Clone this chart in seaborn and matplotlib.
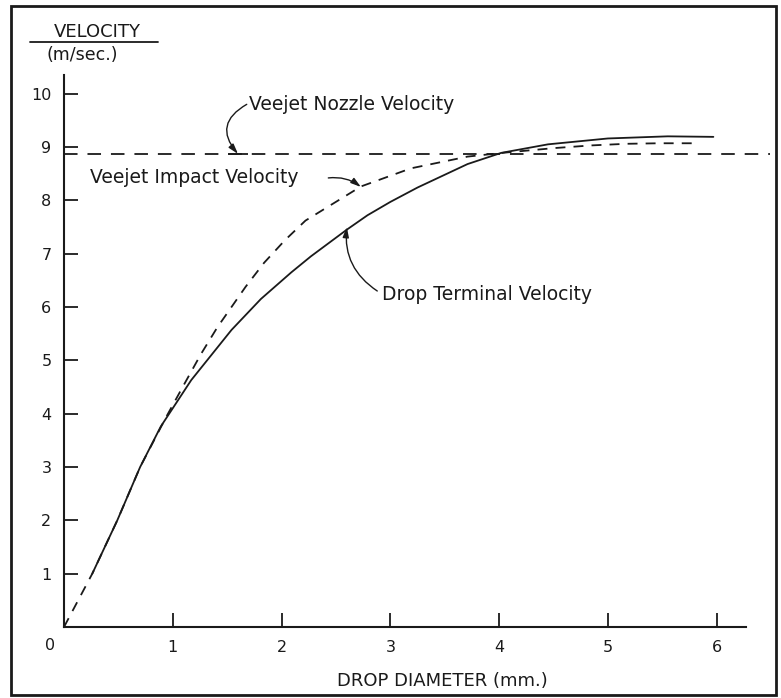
import matplotlib.pyplot as plt
import seaborn as sns
from matplotlib.lines import Line2D
from matplotlib.patches import Rectangle

# values (x: drop diameter in mm, y: velocity in m/s)
terminal_x = [0.26, 0.49, 0.70, 0.89, 1.17, 1.54, 1.81, 2.09, 2.27, 2.60, 2.79,
              3.00, 3.25, 3.71, 4.02, 4.45, 5.00, 5.55, 5.97]
terminal_y = [1.00, 2.00, 3.00, 3.76, 4.63, 5.57, 6.15, 6.65, 6.95, 7.45, 7.72,
              7.97, 8.24, 8.68, 8.89, 9.05, 9.16, 9.20, 9.19]

impact_x = [0.00, 0.26, 0.49, 0.70, 0.94, 1.11, 1.26, 1.41, 1.54, 1.67, 1.84,
            2.03, 2.22, 2.73, 3.19, 3.71, 4.08, 4.51, 4.85, 5.17, 5.47, 5.83]
impact_y = [0.00, 1.00, 2.00, 3.00, 3.94, 4.57, 5.12, 5.62, 6.00, 6.38, 6.83,
            7.25, 7.62, 8.26, 8.60, 8.82, 8.90, 8.98, 9.03, 9.06, 9.07, 9.07]

nozzle_velocity = 8.87
nozzle_x = [0.0, 6.49]

x_ticks = [1, 2, 3, 4, 5, 6]
y_ticks = [1, 2, 3, 4, 5, 6, 7, 8, 9, 10]

sns.set_style('ticks')
plt.rcParams['font.family'] = ['DejaVu Sans']
ink = '#1a1a1a'

W, H = 781, 698
fig = plt.figure(figsize=(W / 100, H / 100), dpi=100)
ax = fig.add_axes([64 / W, 1 - 627 / H, 682 / W, 552 / H])

sns.lineplot(x=terminal_x, y=terminal_y, ax=ax, color=ink, lw=1.3,
             sort=False, estimator=None)
sns.lineplot(x=impact_x, y=impact_y, ax=ax, color=ink, lw=1.3,
             linestyle=(0, (5.5, 4.5)), sort=False, estimator=None)
sns.lineplot(x=nozzle_x, y=[nozzle_velocity] * len(nozzle_x), ax=ax, color=ink,
             lw=1.3, linestyle=(0, (7.5, 5.5)), sort=False, estimator=None,
             clip_on=False)

ax.set_xlim(0, 6.27)
ax.set_ylim(0, 10.35)
sns.despine(ax=ax)
for side in ('left', 'bottom'):
    ax.spines[side].set_linewidth(1.5)
    ax.spines[side].set_color(ink)

ax.set_xticks(x_ticks)
ax.set_xticklabels([str(v) for v in x_ticks])
ax.set_yticks(y_ticks)
ax.set_yticklabels([str(v) for v in y_ticks])
ax.tick_params(direction='in', length=10, width=1.3, colors=ink,
               labelsize=11.5)
ax.tick_params(axis='x', pad=9)
ax.tick_params(axis='y', pad=9)
ax.text(-0.13, -0.2, '0', ha='center', va='top', fontsize=11.5, color=ink)

ax.set_xlabel('DROP DIAMETER (mm.)', fontsize=13, color=ink)
ax.xaxis.set_label_coords(378 / 682, -45 / 552)
ax.xaxis.label.set_va('top')

# y-axis title, written as a fraction over the axis
fig.text(97 / W, 1 - 32 / H, 'VELOCITY', ha='center', va='center',
         fontsize=13, color=ink)
fig.add_artist(Line2D([30 / W, 158 / W], [1 - 42 / H, 1 - 42 / H],
                      color=ink, lw=1.3))
fig.text(82 / W, 1 - 55 / H, '(m/sec.)', ha='center', va='center',
         fontsize=12.5, color=ink)

arrow = dict(arrowstyle='-|>,head_length=0.6,head_width=0.18', color=ink,
             lw=1.0, shrinkA=0, shrinkB=0)
ax.text(1.70, 9.80, 'Veejet Nozzle Velocity', ha='left', va='center',
        fontsize=13.5, color=ink)
ax.annotate('', xy=(1.60, nozzle_velocity), xytext=(1.68, 9.80),
            arrowprops=dict(arrow, connectionstyle='arc3,rad=0.6'))
# small bar where the nozzle arrow meets the line
ax.plot([1.60], [nozzle_velocity], marker='_', ms=14, mew=1.3, color=ink)
ax.text(0.24, 8.42, 'Veejet Impact Velocity', ha='left', va='center',
        fontsize=13.5, color=ink)
ax.annotate('', xy=(2.73, 8.25), xytext=(2.43, 8.42),
            arrowprops=dict(arrow, connectionstyle='arc3,rad=-0.2'))
ax.text(2.92, 6.23, 'Drop Terminal Velocity', ha='left', va='center',
        fontsize=13.5, color=ink)
ax.annotate('', xy=(2.60, 7.50), xytext=(2.88, 6.30),
            arrowprops=dict(arrow, connectionstyle='arc3,rad=-0.3'))

fig.add_artist(Rectangle((11 / W, 1 - 695 / H), 765 / W, 689 / H,
                         transform=fig.transFigure, fill=False,
                         edgecolor=ink, lw=2))

fig.savefig('out.png', dpi=100)
